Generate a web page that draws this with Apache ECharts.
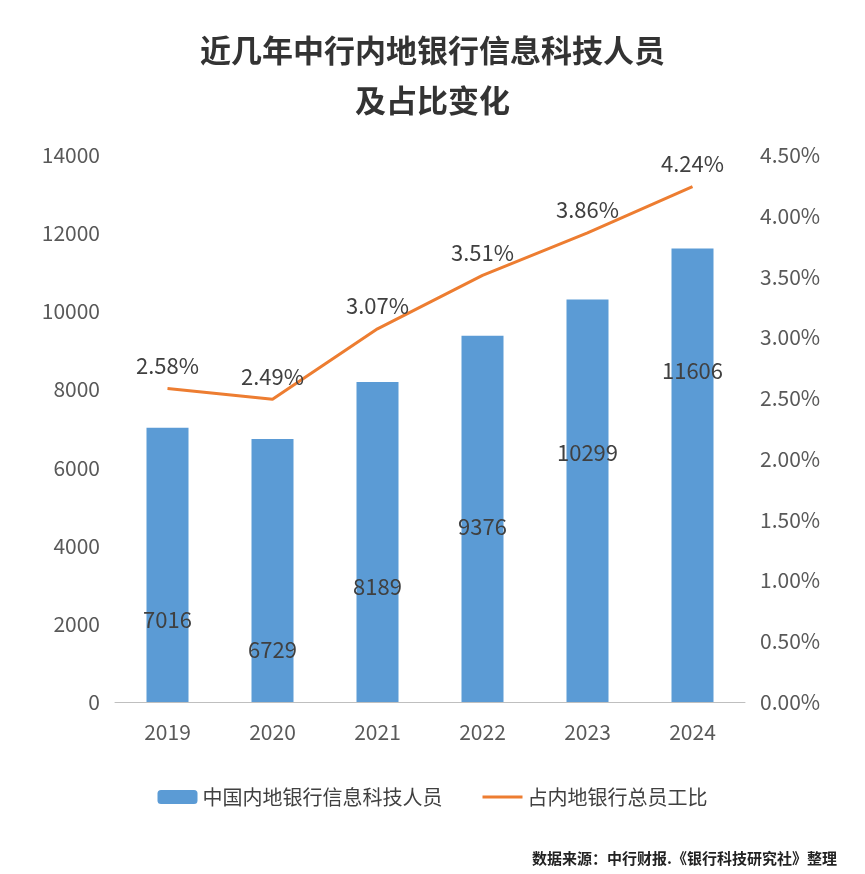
<!DOCTYPE html>
<html><head><meta charset="utf-8">
<script src="https://cdn.jsdelivr.net/npm/echarts@6/dist/echarts.min.js"></script>
<style>html,body{margin:0;background:#fff}#c{width:865px;height:874px}</style>
</head><body><div id="c"></div>
<script>
var years = ['2019', '2020', '2021', '2022', '2023', '2024'];
var staff = [7016, 6729, 8189, 9376, 10299, 11606];
var ratio = [2.58, 2.49, 3.07, 3.51, 3.86, 4.24];
// where each bar label sits inside its bar (from top)
var labelPos = ['70%', '80%', '64%', '52%', '38%', '27%'];

var font = '"Noto Sans CJK SC", "Noto Sans", sans-serif';
var chart = echarts.init(document.getElementById('c'));
chart.setOption({
    animation: false,
    textStyle: { fontFamily: font },
    title: {
        text: '近几年中行内地银行信息科技人员\n及占比变化',
        left: 'center', top: 20,
        textStyle: { fontSize: 31, fontWeight: 'bold', color: '#333', lineHeight: 50, fontFamily: font }
    },
    legend: {
        bottom: 62, itemGap: 40, itemWidth: 40, itemHeight: 14,
        textStyle: { fontSize: 20, color: '#404040' },
        data: [{ name: '中国内地银行信息科技人员' }, { name: '占内地银行总员工比', icon: 'path://M0,0 L40,0 L40,3 L0,3 Z', itemStyle: { color: '#ED7D31' } }]
    },
    graphic: [{
        type: 'text', right: 28, bottom: 8,
        style: { text: '数据来源：中行财报.《银行科技研究社》整理', fontSize: 15, fontWeight: 'bold', fill: '#222', fontFamily: font }
    }],
    grid: { left: 115, right: 120, top: 155, bottom: 172 },
    xAxis: {
        type: 'category', data: years,
        axisTick: { show: false },
        axisLine: { lineStyle: { color: '#bfbfbf' } },
        axisLabel: { fontSize: 21, color: '#595959', margin: 20 }
    },
    yAxis: [{
        type: 'value', min: 0, max: 14000, interval: 2000,
        splitLine: { show: false },
        axisLabel: { fontSize: 21, color: '#595959', margin: 15, formatter: function (v) { return String(v); } }
    }, {
        type: 'value', min: 0, max: 4.5, interval: 0.5,
        splitLine: { show: false },
        axisLabel: { fontSize: 21, color: '#595959', margin: 15, formatter: function (v) { return v.toFixed(2) + '%'; } }
    }],
    series: [{
        name: '中国内地银行信息科技人员', type: 'bar', barWidth: 42,
        itemStyle: { color: '#5B9BD5' },
        data: staff.map(function (v, i) {
            return { value: v, label: { position: ['50%', labelPos[i]] } };
        }),
        label: { show: true, fontSize: 22, color: '#404040', align: 'center', verticalAlign: 'middle' }
    }, {
        name: '占内地银行总员工比', type: 'line', yAxisIndex: 1,
        data: ratio, symbol: 'circle', symbolSize: 0.1, showSymbol: true,
        lineStyle: { color: '#ED7D31', width: 3 }, itemStyle: { color: '#ED7D31' },
        label: { show: true, position: 'top', distance: 12, fontSize: 22, color: '#404040', formatter: function (p) { return p.value.toFixed(2) + '%'; } }
    }]
});
</script></body></html>
